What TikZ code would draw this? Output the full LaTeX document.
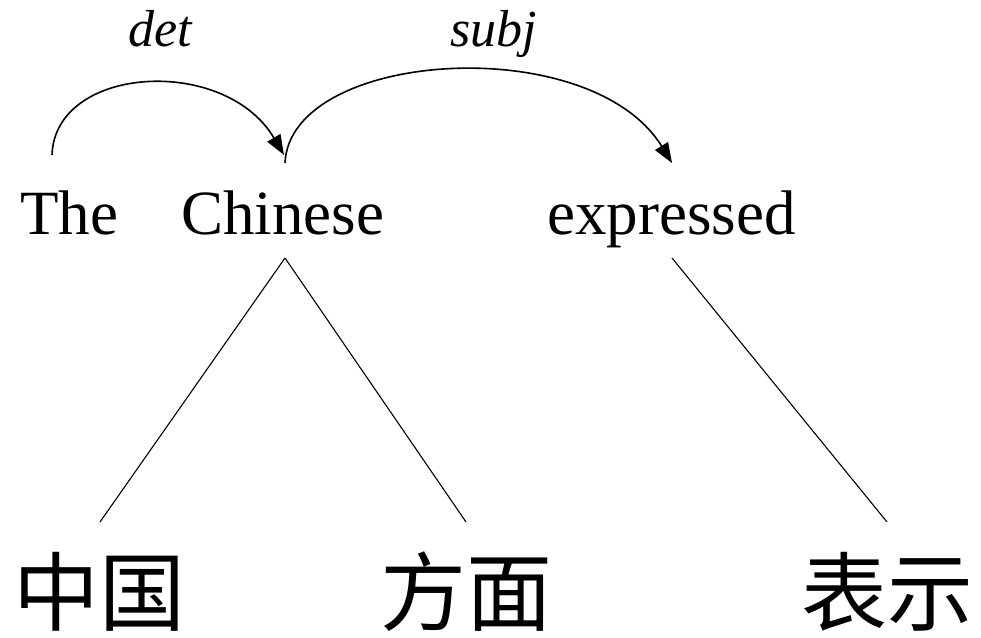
\documentclass[tikz,border=0pt]{standalone}
\usepackage{fontspec}
\setmainfont{Liberation Serif}
\newfontfamily\cjk{Noto Sans CJK SC}
\usetikzlibrary{arrows.meta}
\begin{document}
\begin{tikzpicture}[x=1pt,y=-1pt,
  word/.style={inner sep=0pt,anchor=base west,font=\fontsize{63}{70}\selectfont},
  rel/.style={inner sep=0pt,anchor=base west,font=\fontsize{52}{60}\selectfont\itshape},
  zh/.style={inner sep=0pt,anchor=base,font=\cjk\fontsize{86}{96}\selectfont},
  arc/.style={line width=1.6pt,-{Triangle[length=20pt,width=15pt]}},
  tree/.style={line width=1.1pt}]
\path[use as bounding box] (0,0) rectangle (981,637);
% words
\node[word] (the) at (20,234) {The};
\node[word] (chinese) at (181,234) {Chinese};
\node[word] (expressed) at (547,234) {expressed};
% relation labels
\node[rel] (det) at (128,46) {det};
\node[rel] (subj) at (450,46) {subj};
% chinese words
\node[zh] (zg) at (99,624) {中国};
\node[zh] (fm) at (466,624) {方面};
\node[zh] (bs) at (887,624) {表示};
% anchor points
\coordinate (theTop) at (52,155);
\coordinate (chIn) at (284,155);
\coordinate (chOut) at (285,163);
\coordinate (exIn) at (672,163);
\coordinate (chBot) at (285,258);
\coordinate (exBot) at (672,258);
\coordinate (zgTop) at (100,522);
\coordinate (fmTop) at (466,522);
\coordinate (bsTop) at (887,522);
% arcs
\draw[arc] (theTop) .. controls (55,65) and (225,55) .. (chIn);
\draw[arc] (chOut) .. controls (290,50) and (590,30) .. (exIn);
% tree lines
\draw[tree] (chBot) -- (zgTop);
\draw[tree] (chBot) -- (fmTop);
\draw[tree] (exBot) -- (bsTop);
\end{tikzpicture}
\end{document}
